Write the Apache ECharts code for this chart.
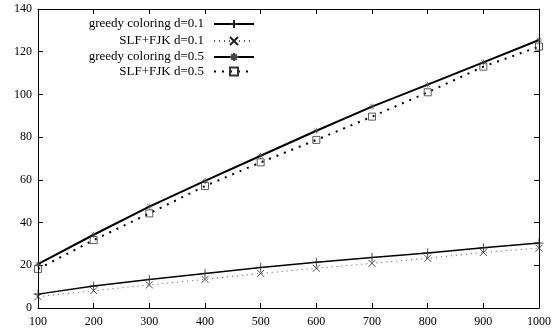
<!DOCTYPE html>
<html><head><meta charset="utf-8">
<script src="https://cdn.jsdelivr.net/npm/echarts@6/dist/echarts.min.js"></script>
<style>html,body{margin:0;padding:0;background:#fff}#c{width:554px;height:334px}</style>
</head><body><div id="c"></div>
<script>
const xValues = [100, 200, 300, 400, 500, 600, 700, 800, 900, 1000];
const greedy01 = [6.5, 10.3, 13.4, 16.2, 19.0, 21.4, 23.7, 25.8, 28.2, 30.4];
const slf01 = [5.3, 8.1, 10.8, 13.4, 16.2, 18.6, 20.9, 23.3, 26.0, 28.0];
const greedy05 = [20.5, 34.3, 47.5, 59.5, 71.3, 83.0, 94.3, 104.6, 115.0, 125.5];
const slf05 = [18.3, 31.8, 44.3, 57.1, 68.2, 78.7, 89.6, 101.0, 113.0, 122.4];
const seriesNames = ['greedy coloring d=0.1', 'SLF+FJK d=0.1', 'greedy coloring d=0.5', 'SLF+FJK d=0.5'];

const plus = 'path://M5,0L5,10M0,5L10,5';
const cross = 'path://M0,0L10,10M0,10L10,0';
const star = 'path://M5,0L5,10M0,5L10,5M1.5,1.5L8.5,8.5M1.5,8.5L8.5,1.5';
const square = 'path://M0,0L10,0L10,10L0,10Z';
const font = 'Liberation Serif';

function pairs(arr){ return xValues.map((x,i)=>[x,arr[i]]); }

const chart = echarts.init(document.getElementById('c'), null, {renderer:'canvas'});
const axisCommon = {
  axisLine:{show:true, onZero:false, lineStyle:{color:'#000', width:1}},
  axisTick:{show:true, inside:true, length:5, lineStyle:{color:'#000'}},
  splitLine:{show:false}
};
const legendRows = [24.5, 41.5, 57.5, 72];
chart.setOption({
  animation:false,
  backgroundColor:'#fff',
  grid:{left:38, right:13, top:9, bottom:26},
  legend: seriesNames.map((n,i)=>({
    data:[n], orient:'vertical', align:'right', right:299, top:legendRows[i]-7,
    itemWidth:40, itemHeight:10, itemGap:4, selectedMode:false,
    textStyle:{fontFamily:font, fontSize:13, color:'#000', padding:[0,5,0,0]},
    padding:0
  })),
  xAxis:[
    Object.assign({type:'value', min:100, max:1000, interval:100, position:'bottom'}, axisCommon,
      {axisLabel:{color:'#000', fontFamily:font, fontSize:12, margin:8, formatter:v=>String(v)}}),
    Object.assign({type:'value', min:100, max:1000, interval:100, position:'top'}, axisCommon,
      {axisLabel:{show:false}})
  ],
  yAxis:[
    Object.assign({type:'value', min:0, max:140, interval:20, position:'left'}, axisCommon,
      {axisLabel:{color:'#000', fontFamily:font, fontSize:12, margin:6, formatter:v=>String(v)}}),
    Object.assign({type:'value', min:0, max:140, interval:20, position:'right'}, axisCommon,
      {axisLabel:{show:false}})
  ],
  series:[
    {name:seriesNames[0], type:'line', data:pairs(greedy01), symbol:plus, symbolSize:9,
     lineStyle:{color:'#000', width:1.5}, itemStyle:{color:'#000', borderColor:'#222', borderWidth:0.8}},
    {name:seriesNames[1], type:'line', data:pairs(slf01), symbol:cross, symbolSize:7,
     lineStyle:{color:'#555', width:1, type:[1,4]}, itemStyle:{color:'#000', borderColor:'#222', borderWidth:0.8}},
    {name:seriesNames[2], type:'line', data:pairs(greedy05), symbol:star, symbolSize:6,
     lineStyle:{color:'#000', width:2}, itemStyle:{color:'#000', borderColor:'#444', borderWidth:0.7}},
    {name:seriesNames[3], type:'line', data:pairs(slf05), symbol:square, symbolSize:7,
     lineStyle:{color:'#000', width:2, type:[2,6]}, itemStyle:{color:'rgba(0,0,0,0)', borderColor:'#333', borderWidth:0.8}}
  ]
});
</script></body></html>
